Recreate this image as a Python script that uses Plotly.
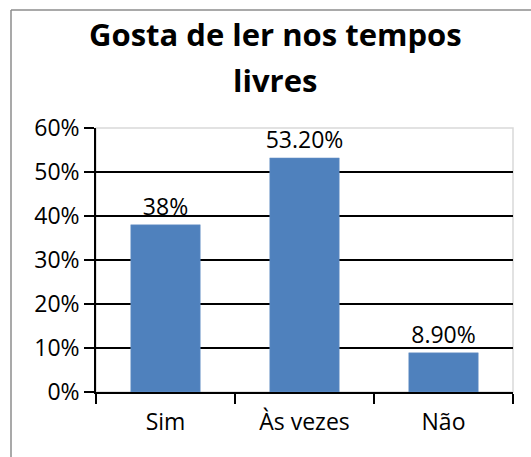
import plotly.graph_objects as go

# Survey results: "Gosta de ler nos tempos livres"
categories = ["Sim", "Às vezes", "Não"]
values = [38.0, 53.2, 8.9]
value_labels = ["38%", "53.20%", "8.90%"]
y_tick_values = [0, 10, 20, 30, 40, 50, 60]
y_tick_labels = ["0%", "10%", "20%", "30%", "40%", "50%", "60%"]
title_lines = ["Gosta de ler nos tempos", "livres"]

W, H = 531, 457
L, R, T, B = 96, 18, 128, 65
FONT = "Open Sans"
FS = 23


def px_x(px):
    return (px - L) / (W - L - R)


def px_y(py):
    return (H - B - py) / (H - T - B)


fig = go.Figure(
    go.Bar(
        x=categories,
        y=values,
        text=value_labels,
        textposition="outside",
        constraintext="none",
        textfont=dict(family=FONT, size=FS, color="#000000"),
        marker=dict(color="#4F81BD", line=dict(color="#6E96C8", width=0.5)),
        width=0.5,
        cliponaxis=False,
    )
)

fig.update_layout(
    width=W,
    height=H,
    margin=dict(l=L, r=R, t=T, b=B),
    paper_bgcolor="white",
    plot_bgcolor="white",
    showlegend=False,
    font=dict(family=FONT, size=FS, color="#000000"),
    xaxis=dict(
        type="category",
        tickson="boundaries",
        ticks="outside",
        ticklen=10,
        tickwidth=1.5,
        tickcolor="#000000",
        showline=True,
        linecolor="#000000",
        linewidth=1.5,
        showgrid=False,
        ticklabelstandoff=9,
        tickfont=dict(family=FONT, size=FS, color="#000000"),
    ),
    yaxis=dict(
        range=[0, 60],
        tickvals=y_tick_values,
        ticktext=y_tick_labels,
        ticks="outside",
        ticklen=10,
        tickwidth=1.5,
        tickcolor="#000000",
        showline=True,
        linecolor="#000000",
        linewidth=1.5,
        showgrid=True,
        gridcolor="#000000",
        gridwidth=1.5,
        zeroline=False,
        tickfont=dict(family=FONT, size=FS, color="#000000"),
    ),
    shapes=[
        # plot area frame
        dict(type="rect", xref="paper", yref="paper", x0=0, x1=1, y0=0, y1=1,
             line=dict(color="#D9D9D9", width=1.5), layer="below"),
        # chart area frame (left and top edges)
        dict(type="line", xref="paper", yref="paper",
             x0=px_x(11), x1=px_x(11), y0=px_y(10), y1=px_y(470),
             line=dict(color="#8C8C8C", width=1.5)),
        dict(type="line", xref="paper", yref="paper",
             x0=px_x(11), x1=px_x(540), y0=px_y(10), y1=px_y(10),
             line=dict(color="#8C8C8C", width=1.5)),
    ],
    annotations=[
        dict(text="<b>%s</b>" % title_lines[0], xref="paper", yref="paper",
             x=px_x(275), y=px_y(34), xanchor="center", yanchor="middle",
             showarrow=False, font=dict(family=FONT, size=31, color="#000000")),
        dict(text="<b>%s</b>" % title_lines[1], xref="paper", yref="paper",
             x=px_x(275), y=px_y(80), xanchor="center", yanchor="middle",
             showarrow=False, font=dict(family=FONT, size=31, color="#000000")),
    ],
)

fig.write_html("out.html")
